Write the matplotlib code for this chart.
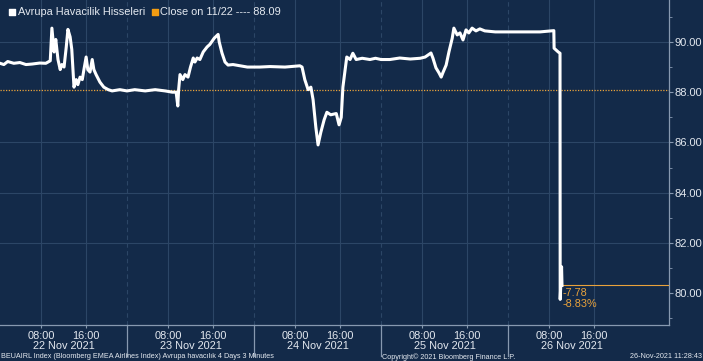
import numpy as np
import matplotlib
matplotlib.use("Agg")
import matplotlib.pyplot as plt
import matplotlib.transforms as mtransforms

plt.rcParams['font.family'] = ['Liberation Sans', 'DejaVu Sans']

# BEUAIRL Index, 3-minute bars
# clock hours per day, session runs 00:30 - 23:30
days = ["22 Nov 2021", "23 Nov 2021", "24 Nov 2021", "25 Nov 2021", "26 Nov 2021"]

d0_t = [0.5, 1.2, 1.9, 3.0, 4.1, 5.2, 6.3, 7.7, 8.8, 9.6,
        9.9, 10.3, 10.6, 11.0, 11.4, 11.7, 12.1, 12.5, 12.8, 13.2,
        13.5, 13.9, 14.3, 14.6, 15.0, 15.4, 15.7, 16.1, 16.4, 16.8,
        17.2, 17.5, 17.9, 18.6, 19.3, 20.1, 20.8, 22.2, 23.5]
d0_v = [89.15, 89.10, 89.22, 89.15, 89.18, 89.10, 89.12, 89.16, 89.15, 89.25,
        90.55, 89.6, 90.1, 89.3, 88.9, 89.1, 89.0, 89.8, 90.5, 90.2,
        89.7, 88.2, 88.5, 88.3, 88.6, 88.5, 88.9, 89.4, 88.9, 88.8,
        89.3, 88.9, 88.7, 88.4, 88.2, 88.1, 88.05, 88.1, 88.05]

d1_t = [1.9, 3.8, 5.6, 7.4, 8.7, 9.4, 9.7, 9.85, 10.1, 10.6, 11.0, 11.55, 12.0, 12.5,
        12.8, 13.2, 13.7, 14.3, 15.0, 15.5, 16.3, 17.0, 17.2, 17.7, 18.25, 18.8,
        19.7, 21.0, 22.3, 23.5]
d1_v = [88.1, 88.05, 88.1, 88.05, 88.0, 88.0, 87.45, 88.1, 88.7, 88.5, 88.7, 88.6, 89.0, 89.36,
        89.2, 89.36, 89.3, 89.6, 89.8, 89.9, 90.15, 90.3, 90.0, 89.56, 89.2, 89.08,
        89.1, 89.05, 89.0, 89.0]

d2_t = [1.5, 3.4, 6.1, 8.8, 9.2, 9.7, 10.3, 10.8, 11.2, 11.7, 12.1, 12.6, 13.2, 13.7,
        14.4, 15.4, 15.9, 16.3, 16.6, 17.0, 17.3, 17.9, 18.4, 19.0, 20.1, 21.5, 22.5, 23.5]
d2_v = [89.0, 89.02, 89.0, 89.05, 89.0, 88.5, 88.1, 88.2, 87.7, 86.6, 85.9, 86.4, 86.9, 87.2,
        87.1, 87.15, 86.7, 87.0, 88.2, 88.9, 89.4, 89.3, 89.55, 89.3, 89.35, 89.3, 89.35, 89.3]

d3_t = [2.1, 3.9, 5.8, 7.6, 8.5, 9.55, 9.9, 10.45, 11.0, 11.4, 11.7, 12.3, 12.8,
        13.4, 13.7, 14.3, 14.8, 15.35, 15.9, 16.4, 17.0, 17.7, 18.4, 19.3, 21.2, 23.5]
d3_v = [89.3, 89.36, 89.32, 89.35, 89.4, 89.56, 89.36, 88.97, 88.77, 88.6, 88.77, 89.08, 89.6,
        90.15, 90.55, 90.28, 90.36, 90.08, 90.48, 90.36, 90.55, 90.44, 90.52, 90.44, 90.4, 90.4]

d4_t = [2.7, 6.3, 8.8, 8.85, 9.6, 9.92, 9.95, 10.2, 10.28]
d4_v = [90.4, 90.4, 90.45, 89.75, 89.6, 89.55, 79.75, 81.05, 80.31]

prev_close = 88.09
series_name = "Avrupa Havacilik Hisseleri"

DAY_LEN = 23.0      # session hours shown per day
START = 0.5

def sess(day, clock):
    return day * DAY_LEN + (np.asarray(clock) - START)

x = np.concatenate([sess(i, t) for i, t in enumerate([d0_t, d1_t, d2_t, d3_t, d4_t])])
y = np.concatenate([d0_v, d1_v, d2_v, d3_v, d4_v])
last = y[-1]
chg = last - prev_close
pct = chg / prev_close * 100

bg = '#132a49'
grid_c = '#2c4666'
axis_c = '#8799b0'
txt_c = '#e3e8ef'
orange = '#e9a23b'

fig = plt.figure(figsize=(7.03, 3.61), dpi=100)
fig.patch.set_facecolor(bg)
ax = fig.add_axes([0.0, 36 / 361, 669 / 703, 325 / 361])
ax.set_facecolor(bg)

ax.set_xlim(0, 669 / (127 / DAY_LEN))
ax.set_ylim(78.73, 91.67)

# grid
for v in [82, 84, 86, 90]:
    ax.axhline(v, color=grid_c, lw=0.8, zorder=1)
for i in range(len(days)):
    for h in [8, 16]:
        ax.axvline(sess(i, h), color=grid_c, lw=0.8, zorder=1)
    if i > 0:
        ax.axvline(sess(i, START), color=grid_c, lw=0.8, ls=(0, (4, 3)), zorder=1)

ax.axhline(prev_close, color=orange, lw=0.9, ls=(0, (1, 1.2)), zorder=2)

ax.plot(x, y, color='white', lw=2.2, zorder=4)

# last value marker line + change
ax.plot([x[-1], ax.get_xlim()[1]], [last, last], color=orange, lw=0.8, zorder=3)
ax.text(x[-1] + 0.15, last - 0.12, "%.2f\n%.2f%%" % (chg, pct), color=orange,
        fontsize=7.8, va='top', ha='left', linespacing=1.05, zorder=5)

# axes styling
for s in ['top', 'left']:
    ax.spines[s].set_visible(False)
for s in ['right', 'bottom']:
    ax.spines[s].set_color(axis_c)
    ax.spines[s].set_linewidth(0.9)

ax.yaxis.tick_right()
ax.set_yticks([80, 82, 84, 86, 88, 90])
ax.set_yticklabels(["%.2f" % v for v in [80, 82, 84, 86, 88, 90]])
ax.set_yticks([79, 81, 83, 85, 87, 89, 91], minor=True)
ax.tick_params(axis='y', which='major', colors=axis_c, labelcolor=txt_c,
               labelsize=8, length=3, pad=1)
ax.tick_params(axis='y', which='minor', colors=axis_c, length=2)

xt = [sess(i, h) for i in range(len(days)) for h in [8, 16]]
ax.set_xticks(xt)
ax.set_xticklabels(["08:00", "16:00"] * len(days))
ax.tick_params(axis='x', colors=axis_c, labelcolor=txt_c, labelsize=7.9,
               length=2, pad=2.5)

trans = mtransforms.blended_transform_factory(ax.transData, ax.transAxes)
for i, d in enumerate(days):
    ax.annotate(d, xy=(sess(i, START) + DAY_LEN / 2, 0), xycoords=trans,
                xytext=(0, -15.3), textcoords='offset points',
                ha='center', va='center', color=txt_c, fontsize=7.9)
    if i > 0:
        ax.plot([sess(i, START)] * 2, [0, -0.095], transform=trans,
                color=axis_c, lw=0.9, clip_on=False)

# legend
ax.scatter([0.0185], [0.962], marker='s', s=24, color='white', transform=ax.transAxes, clip_on=False, zorder=6)
ax.text(0.027, 0.962, series_name, transform=ax.transAxes, color=txt_c,
        fontsize=7.9, va='center', ha='left')
ax.scatter([0.2315], [0.962], marker='s', s=24, color='#f39c12', transform=ax.transAxes, clip_on=False, zorder=6)
ax.text(0.239, 0.962, "Close on 11/22 ---- %.2f" % prev_close, transform=ax.transAxes,
        color=txt_c, fontsize=7.9, va='center', ha='left')

# footer
fig.text(0.001, 4 / 361, "BEUAIRL Index (Bloomberg EMEA Airlines Index) Avrupa havacılık 4 Days 3 Minutes",
         color=txt_c, fontsize=5.2, ha='left', va='center')
fig.text(382 / 703, 4 / 361, "Copyright© 2021 Bloomberg Finance L.P.",
         color=txt_c, fontsize=5.2, ha='left', va='center')
fig.text(0.998, 4 / 361, "26-Nov-2021 11:28:43",
         color=txt_c, fontsize=5.2, ha='right', va='center')

fig.savefig("out.png", dpi=100, facecolor=bg)
